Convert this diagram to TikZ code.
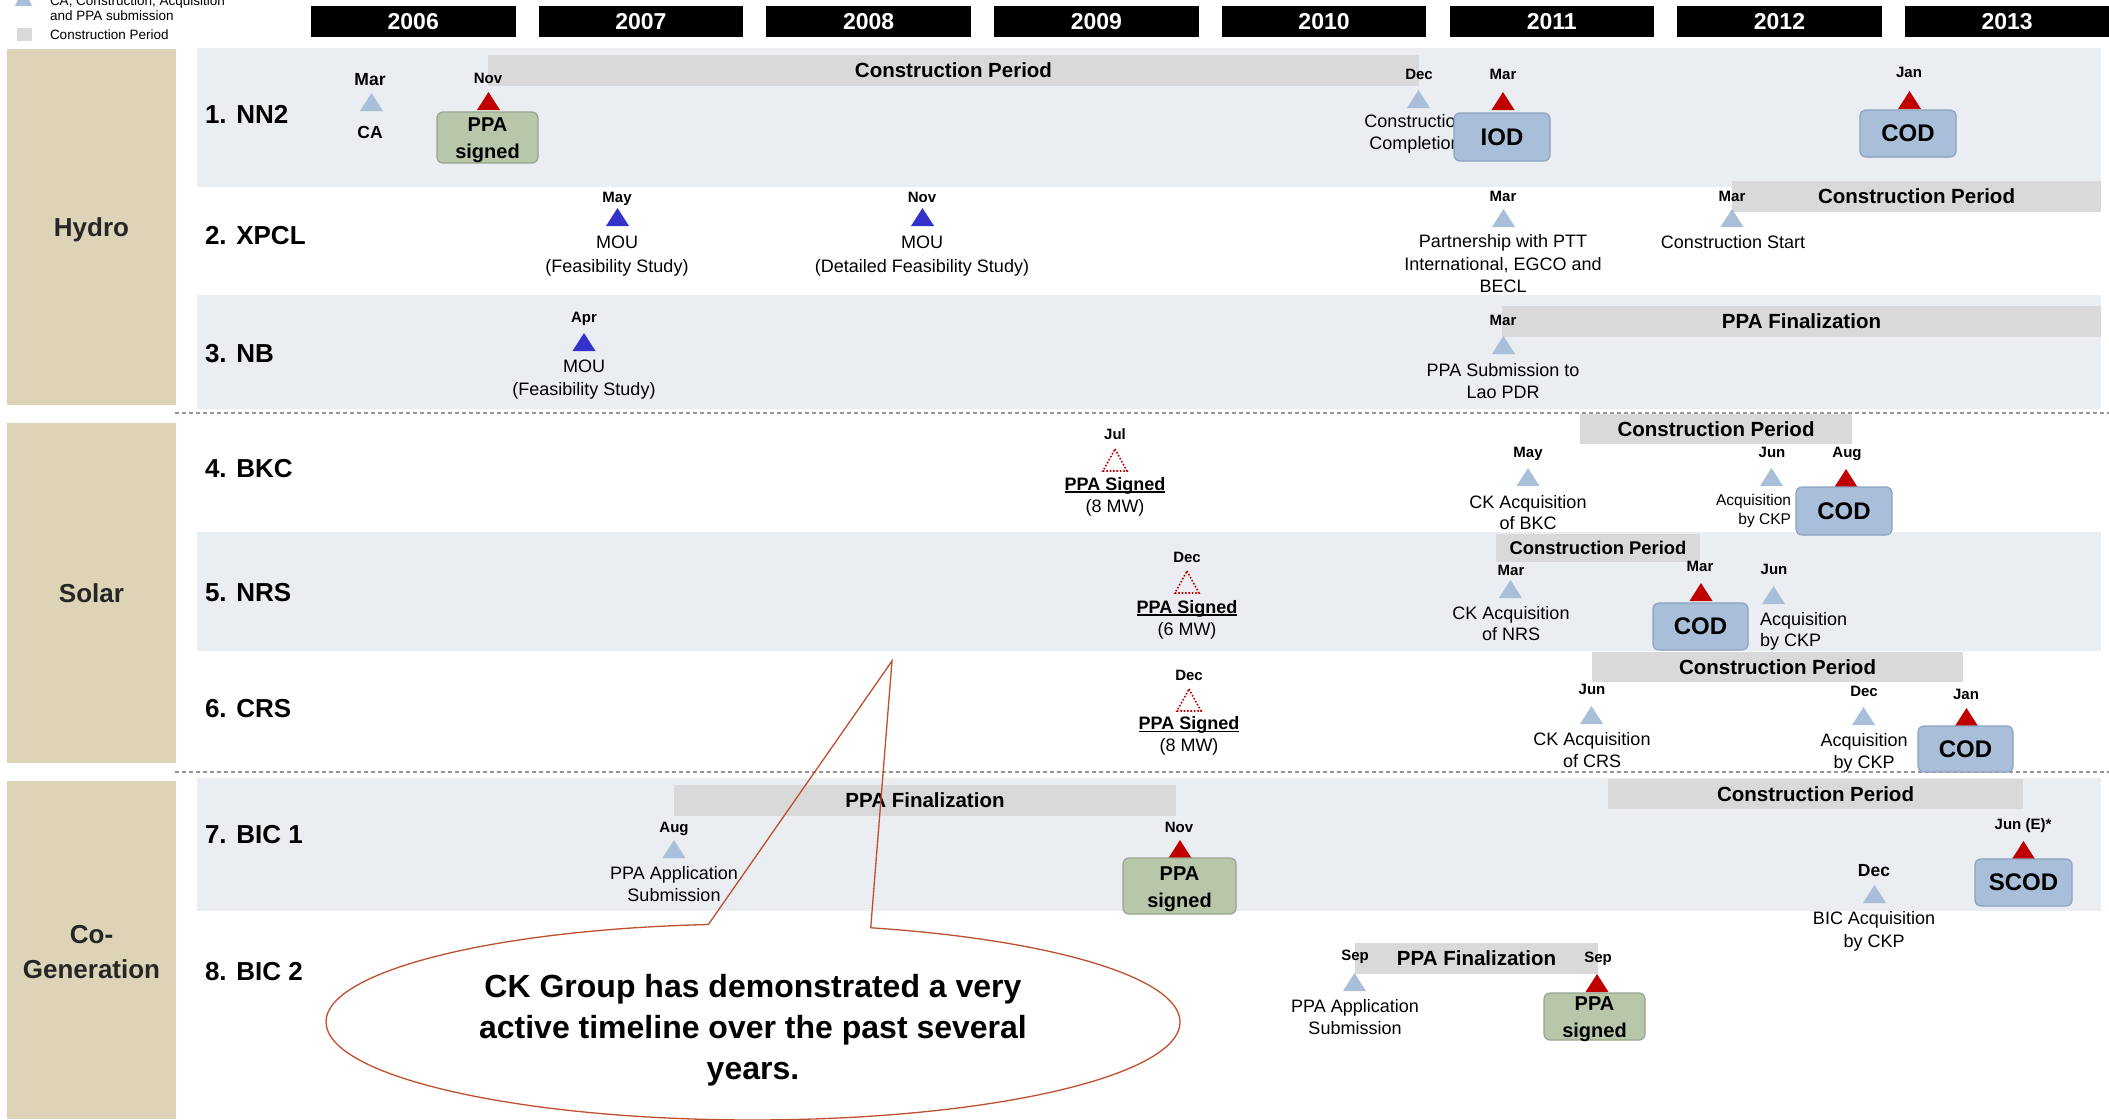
\documentclass[tikz,border=0pt]{standalone}
\usepackage{fontspec}
\setmainfont{Liberation Sans}
\newcommand\sx{\rule[-0.25em]{0pt}{1.2em}}
\newcommand\nl{\\\sx}
\newcommand\ulx[1]{\setbox0\hbox{#1}\rlap{\rule[-2.6pt]{\wd0}{1.6pt}}\box0}
\definecolor{tanc}{RGB}{221,211,182}
\definecolor{band}{RGB}{234,237,242}
\definecolor{barg}{RGB}{217,217,217}
\definecolor{lblue}{RGB}{168,190,217}
\definecolor{dred}{RGB}{192,0,0}
\definecolor{dblue}{RGB}{51,51,204}
\definecolor{gbox}{RGB}{184,198,170}
\definecolor{gboxb}{RGB}{150,165,140}
\definecolor{bboxb}{RGB}{140,163,192}
\definecolor{callc}{RGB}{190,80,45}
\definecolor{dashc}{RGB}{150,150,150}
\definecolor{catc}{RGB}{38,38,38}
\begin{document}
\begin{tikzpicture}[x=1pt,y=-1pt,
 every node/.style={inner sep=0pt, outer sep=0pt, execute at begin node=\sx},
 mon/.style={font=\bfseries\fontsize{15}{18}\selectfont},
 monl/.style={font=\bfseries\fontsize{17.5}{21}\selectfont},
 dsc/.style={font=\fontsize{18}{22}\selectfont, align=center},
 dscm/.style={dsc, yshift=-1.5pt},
 dscw/.style={font=\fontsize{18}{24}\selectfont, align=center, yshift=-1.5pt},
 bartxt/.style={fill=barg, font=\bfseries\fontsize{20.5}{24}\selectfont},
 gbx/.style={fill=gbox, draw=gboxb, line width=1.2pt, rounded corners=6pt},
 gtxt/.style={align=center, font=\bfseries\fontsize{20}{27}\selectfont, yshift=-3.5pt},
 bbx/.style={fill=lblue, draw=bboxb, line width=1.2pt, rounded corners=6pt, font=\bfseries\fontsize{24}{28}\selectfont},
 rowl/.style={anchor=west, font=\bfseries\fontsize{26}{31}\selectfont},
 catl/.style={fill=tanc, align=center, text=catc, font=\bfseries\fontsize{26}{34}\selectfont},
 catt/.style={align=center, text=catc, font=\bfseries\fontsize{26}{35}\selectfont},
 yrb/.style={fill=black, text=white, minimum width=204.5pt, minimum height=31pt, font=\bfseries\fontsize{23}{27}\selectfont},
 legt/.style={anchor=base west, font=\fontsize{13.5}{16}\selectfont},
 tri/.pic={\fill[#1] (0,0) -- (11.5,18) -- (-11.5,18) -- cycle;},
 dtri/.pic={\draw[dred, line width=1.6pt, dash pattern=on 1.6pt off 1.8pt] (0,0) -- (12,22) -- (-12,22) -- cycle;},
 dashln/.style={dashc, line width=1.2pt, dash pattern=on 4pt off 3pt}
]
\useasboundingbox (0,0) rectangle (2109,1119);
\fill[white] (0,0) rectangle (2109,1119);

% legend
\fill[lblue] (15,6) -- (32,6) -- (23.5,-12) -- cycle;
\fill[barg] (17,28) rectangle (32,41);
\node[legt] (lg1) at (50,5) {CA, Construction, Acquisition};
\node[legt] (lg2) at (50,20.7) {and PPA submission};
\node[legt] (lg3) at (50,39) {Construction Period};

% years
\foreach \yr [count=\i from 0] in {2006,2007,2008,2009,2010,2011,2012,2013}
  \node[yrb] (y\yr) at (413.25+227.7*\i,21.5) {\yr};

% bands
\fill[band] (197,48) rectangle (2101,187);
\fill[band] (197,295) rectangle (2101,409);
\fill[band] (197,532) rectangle (2101,651);
\fill[band] (197,778) rectangle (2101,911);
\draw[dashln] (175,413) -- (2109,413);
\draw[dashln] (175,772) -- (2109,772);

% categories
\node[catl, minimum width=169pt, minimum height=356pt] (hydro) at (91.5,227) {Hydro};
\node[catl, minimum width=169pt, minimum height=340pt] (solar) at (91.5,593) {Solar};
\fill[tanc] (7,781) rectangle (176,1119);
\node[catt] (cogen) at (91.5,955.5) {Co-\nl Generation};

% row labels
\node[rowl] (r1) at (205,114) {1. NN2};
\node[rowl] (r2) at (205,235) {2. XPCL};
\node[rowl] (r3) at (205,353) {3. NB};
\node[rowl] (r4) at (205,468) {4. BKC};
\node[rowl] (r5) at (205,592) {5. NRS};
\node[rowl] (r6) at (205,708) {6. CRS};
\node[rowl] (r7) at (205,834) {7. BIC 1};
\node[rowl] (r8) at (205,971) {8. BIC 2};

% bars
\node[bartxt, minimum width=931pt, minimum height=31pt] (b1) at (953.5,70.5) {Construction Period};
\node[bartxt, minimum width=369pt, minimum height=31pt] (b2) at (1916.5,196.5) {Construction Period};
\node[bartxt, minimum width=599pt, minimum height=31pt] (b3) at (1801.5,321.5) {PPA Finalization};
\node[bartxt, minimum width=272pt, minimum height=30pt] (b4) at (1716,429) {Construction Period};
\node[bartxt, minimum width=204pt, minimum height=28pt, font=\bfseries\fontsize{18.4}{22}\selectfont] (b5) at (1598,548) {Construction Period};
\node[bartxt, minimum width=371pt, minimum height=30pt] (b6) at (1777.5,667) {Construction Period};
\node[bartxt, minimum width=502pt, minimum height=31pt] (b7a) at (925,800.5) {PPA Finalization};
\node[bartxt, minimum width=415pt, minimum height=30pt] (b7b) at (1815.5,794) {Construction Period};
\node[bartxt, minimum width=243pt, minimum height=31pt] (b8) at (1476.5,958.5) {PPA Finalization};

% month labels
\node[monl] (m11) at (370,79) {Mar};
\node[mon] (m12) at (488,78) {Nov};
\node[mon] (m13) at (1419,74) {Dec};
\node[mon] (m14) at (1503,74) {Mar};
\node[mon] (m15) at (1909,72) {Jan};
\node[mon] (m21) at (617,197) {May};
\node[mon] (m22) at (922,197) {Nov};
\node[mon] (m23) at (1503,196) {Mar};
\node[mon] (m24) at (1732,196) {Mar};
\node[mon] (m31) at (584,317) {Apr};
\node[mon] (m32) at (1503,320) {Mar};
\node[mon] (m41) at (1115,434) {Jul};
\node[mon] (m42) at (1528,452) {May};
\node[mon] (m43) at (1772,452) {Jun};
\node[mon] (m44) at (1847,452) {Aug};
\node[mon] (m51) at (1187,557) {Dec};
\node[mon] (m52) at (1511,570) {Mar};
\node[mon] (m53) at (1700,566) {Mar};
\node[mon] (m54) at (1774,569) {Jun};
\node[mon] (m61) at (1189,675) {Dec};
\node[mon] (m62) at (1592,689) {Jun};
\node[mon] (m63) at (1864,691) {Dec};
\node[mon] (m64) at (1966,694) {Jan};
\node[mon] (m71) at (674,827) {Aug};
\node[mon] (m72) at (1179,827) {Nov};
\node[mon] (m73) at (2023,824) {Jun (E)*};
\node[monl] (m74) at (1874,870) {Dec};
\node[mon] (m81) at (1355,955) {Sep};
\node[mon] (m82) at (1598,957) {Sep};

% triangles
\pic at (371.5,93) {tri=lblue};
\pic at (488.5,92) {tri=dred};
\pic at (1418.5,90) {tri=lblue};
\pic at (1503,92) {tri=dred};
\pic at (1909.5,91) {tri=dred};
\pic at (617.5,208) {tri=dblue};
\pic at (922.5,208) {tri=dblue};
\pic at (1503.5,209) {tri=lblue};
\pic at (1732,209) {tri=lblue};
\pic at (584,333) {tri=dblue};
\pic at (1503.5,336) {tri=lblue};
\pic at (1115,449) {dtri};
\pic at (1528,468) {tri=lblue};
\pic at (1771.5,468) {tri=lblue};
\pic at (1846,469) {tri=dred};
\pic at (1187,571) {dtri};
\pic at (1510.5,580) {tri=lblue};
\pic at (1701,583) {tri=dred};
\pic at (1773.5,586) {tri=lblue};
\pic at (1189,689) {dtri};
\pic at (1591.5,706) {tri=lblue};
\pic at (1863.5,707) {tri=lblue};
\pic at (1966.5,708) {tri=dred};
\pic at (674,840) {tri=lblue};
\pic at (1180,840) {tri=dred};
\pic at (2023.5,841) {tri=dred};
\pic at (1874.5,885) {tri=lblue};
\pic at (1354.5,973) {tri=lblue};
\pic at (1597,974) {tri=dred};

% descriptions
\node[monl] (ca) at (370,132) {CA};
\node[dscm] (cc) at (1415,133) {Construction\nl Completion};
\node[dscw] (x1) at (617,255) {MOU\nl (Feasibility Study)};
\node[dscw] (x2) at (922,255) {MOU\nl (Detailed Feasibility Study)};
\node[dscm, font=\fontsize{18}{22.5}\selectfont] (x3) at (1503,264.5) {Partnership with PTT\nl International, EGCO and\nl BECL};
\node[dsc] (x4) at (1733,242) {Construction Start};
\node[dscm, font=\fontsize{18}{23}\selectfont] (n1) at (584,378.5) {MOU\nl (Feasibility Study)};
\node[dscm] (n2) at (1503,382) {PPA Submission to\nl Lao PDR};
\node[dscm] (k1) at (1115,495.5) {\textbf{\ulx{PPA Signed}}\nl (8 MW)};
\node[dscm, font=\fontsize{18}{21}\selectfont] (k2) at (1528,513.5) {CK Acquisition\nl of BKC};
\node[anchor=east, align=right, font=\fontsize{15.5}{19}\selectfont, yshift=-1.5pt] (k3) at (1791,509.5) {Acquisition\nl by CKP};
\node[dscm] (s1) at (1187,618.5) {\textbf{\ulx{PPA Signed}}\nl (6 MW)};
\node[dscm, font=\fontsize{18}{21}\selectfont] (s2) at (1511,624.5) {CK Acquisition\nl of NRS};
\node[anchor=west, align=left, font=\fontsize{18}{21}\selectfont, yshift=-1.5pt] (s3) at (1760,630.5) {Acquisition\nl by CKP};
\node[dscm] (c1) at (1189,735) {\textbf{\ulx{PPA Signed}}\nl (8 MW)};
\node[dscm] (c2) at (1592,751) {CK Acquisition\nl of CRS};
\node[dscm] (c3) at (1864,752) {Acquisition\nl by CKP};
\node[dscm] (g1) at (674,885) {PPA Application\nl Submission};
\node[dscm, font=\fontsize{18}{23}\selectfont] (g2) at (1874,930.5) {BIC Acquisition\nl by CKP};
\node[dscm] (h1) at (1355,1018) {PPA Application\nl Submission};

% milestone boxes
\node[gbx, minimum width=101pt, minimum height=51pt] (ppa1) at (487.5,137.5) {};
\node[gtxt] (ppa1t) at (ppa1.center) {PPA\nl signed};
\node[bbx, minimum width=96pt, minimum height=48pt] (iod) at (1502,137) {IOD};
\node[bbx, minimum width=96pt, minimum height=47pt] (cod1) at (1908,133.5) {COD};
\node[bbx, minimum width=96pt, minimum height=48pt] (cod4) at (1844,511) {COD};
\node[bbx, minimum width=95pt, minimum height=47pt] (cod5) at (1700.5,626.5) {COD};
\node[bbx, minimum width=95pt, minimum height=46pt] (cod6) at (1965.5,749) {COD};
\node[gbx, minimum width=113pt, minimum height=56pt] (ppa7) at (1179.5,886) {};
\node[gtxt] (ppa7t) at (ppa7.center) {PPA\nl signed};
\node[bbx, minimum width=97pt, minimum height=47pt] (scod) at (2023.5,882.5) {SCOD};
\node[gbx, minimum width=101pt, minimum height=47pt] (ppa8) at (1594.5,1016.5) {};
\node[gtxt] (ppa8t) at (ppa8.center) {PPA\nl signed};

% callout
\coordinate (ctip) at (892,661);
\coordinate (cl) at (708.4,924.5);
\draw[callc, line width=1.3pt, line join=miter] (ctip) -- (cl) arc[start angle=96, end angle=434, x radius=427pt, y radius=98pt] -- cycle;
\node[align=center, font=\bfseries\fontsize{32}{41}\selectfont] (ctxt) at (753,1031) {CK Group has demonstrated a very\nl active timeline over the past several\nl years.};
\end{tikzpicture}
\end{document}
